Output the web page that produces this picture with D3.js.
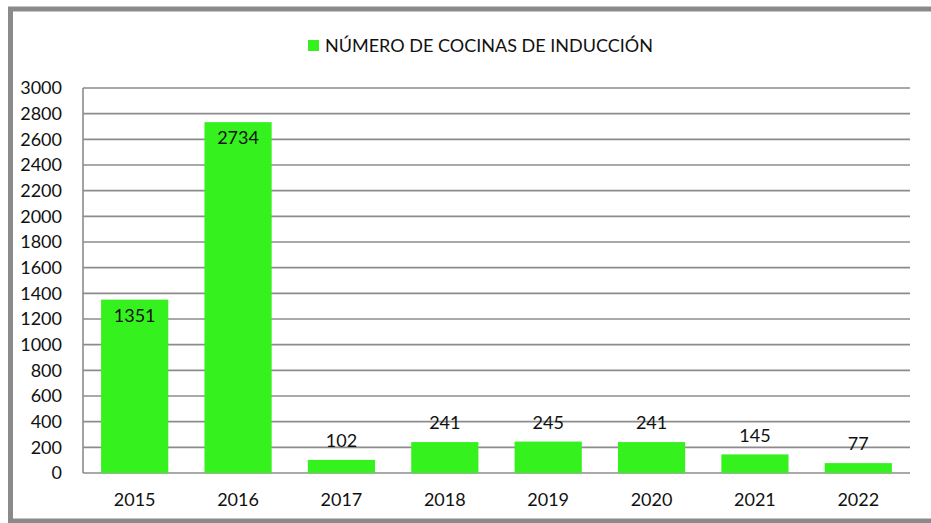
<!DOCTYPE html>
<html>
<head>
<meta charset="utf-8">
<script src="https://cdn.jsdelivr.net/npm/d3@7"></script>
<style>
  body { margin: 0; background: #fff; }
  text { font-family: Lato, "Open Sans", sans-serif; fill: #111; }
</style>
</head>
<body>
<div id="chart"></div>
<script>
// data
var years = ['2015','2016','2017','2018','2019','2020','2021','2022'];
var cocinas = [1351, 2734, 102, 241, 245, 241, 145, 77];
var yTicks = [0,200,400,600,800,1000,1200,1400,1600,1800,2000,2200,2400,2600,2800,3000];
var seriesName = 'NÚMERO DE COCINAS DE INDUCCIÓN';

var W = 931, H = 523;
var plotL = 83, plotR = 910, plotT = 88, plotB = 473;
var barColor = '#35f21f';

var svg = d3.select('div#chart').append('svg')
            .attr('width', W).attr('height', H);

// outer frame
svg.append('rect')
    .attr('x', 10.5).attr('y', 9)
    .attr('width', 960).attr('height', 512)
    .attr('fill', 'none')
    .attr('stroke', '#8a8a8a')
    .attr('stroke-width', 5);

var x = d3.scaleBand().domain(years).range([plotL, plotR]).paddingInner(0.35).paddingOuter(0.175);
var y = d3.scaleLinear().domain([0, 3000]).range([plotB, plotT]);

// gridlines
svg.append('g').selectAll('line').data(yTicks)
    .enter().append('line')
    .attr('x1', plotL).attr('x2', plotR)
    .attr('y1', function(d){ return y(d); })
    .attr('y2', function(d){ return y(d); })
    .attr('stroke', '#8c8c8c')
    .attr('stroke-width', 1.6);

// left axis line
svg.append('line')
    .attr('x1', plotL).attr('x2', plotL)
    .attr('y1', plotT).attr('y2', plotB)
    .attr('stroke', '#8c8c8c').attr('stroke-width', 1.6);

// y labels
svg.append('g').selectAll('text').data(yTicks)
    .enter().append('text')
    .attr('x', 62)
    .attr('y', function(d){ return y(d); })
    .attr('dy', '0.35em')
    .attr('text-anchor', 'end')
    .style('font-size', '18px')
    .text(function(d){ return d; });

// bars
svg.append('g').selectAll('rect').data(cocinas)
    .enter().append('rect')
    .attr('x', function(d,i){ return x(years[i]); })
    .attr('width', x.bandwidth())
    .attr('y', function(d){ return y(d); })
    .attr('height', function(d){ return plotB - y(d); })
    .attr('fill', barColor);

// value labels: inside end for tall bars, above for short ones
svg.append('g').selectAll('text').data(cocinas)
    .enter().append('text')
    .attr('x', function(d,i){ return x(years[i]) + x.bandwidth()/2; })
    .attr('y', function(d){ return d > 1000 ? y(d) + 16 : y(d) - 19; })
    .attr('dy', '0.35em')
    .attr('text-anchor', 'middle')
    .style('font-size', '18px')
    .text(function(d){ return d; });

// x labels
svg.append('g').selectAll('text').data(years)
    .enter().append('text')
    .attr('x', function(d){ return x(d) + x.bandwidth()/2; })
    .attr('y', 500)
    .attr('dy', '0.35em')
    .attr('text-anchor', 'middle')
    .style('font-size', '18px')
    .text(function(d){ return d; });

// legend
var legend = svg.append('g');
legend.append('rect')
    .attr('x', 308).attr('y', 40)
    .attr('width', 11).attr('height', 11)
    .attr('fill', barColor);
legend.append('text')
    .attr('x', 325).attr('y', 52)
    .style('font-size', '18px')
    .text(seriesName);
</script>
</body>
</html>
